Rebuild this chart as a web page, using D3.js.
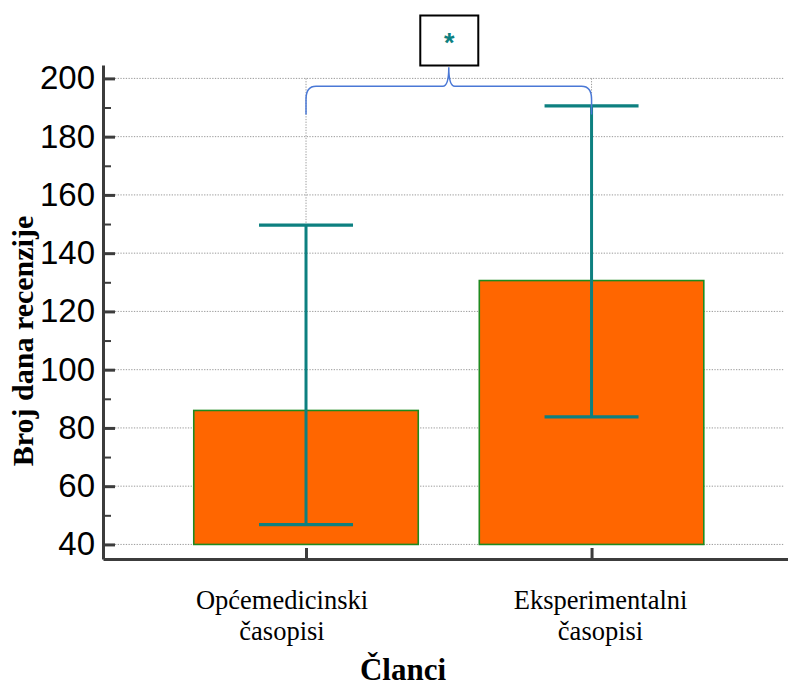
<!DOCTYPE html>
<html>
<head>
<meta charset="utf-8">
<script src="https://cdn.jsdelivr.net/npm/d3@7"></script>
<style>
  html, body { margin: 0; padding: 0; background: #fff; }
  svg { display: block; }
</style>
</head>
<body>
<svg id="chart" width="788" height="686"></svg>
<script>
// ---- data ----
const categories = [["Općemedicinski", "časopisi"], ["Eksperimentalni", "časopisi"]];
const barValues = [86, 130.6];
const errLow = [46.8, 83.8];
const errHigh = [149.6, 190.6];
const yMajorTicks = [40, 60, 80, 100, 120, 140, 160, 180, 200];
const yMinorTicks = [50, 70, 90, 110, 130, 150, 170, 190];
const barBase = 40;
const significance = "*";
const yTitle = "Broj dana recenzije";
const xTitle = "Članci";

// ---- setup ----
const svg = d3.select("#chart");
const y = d3.scaleLinear().domain([35, 204.6]).range([559, 65]);
const x = d3.scaleLinear().domain([-0.711, 1.688]).range([103, 788]);
const barW = 224.5;

const axisColor = "#3c3c3c";
const gridColor = "#9a9a9a";
const teal = "#0d8080";
const serif = "'Liberation Serif', 'Times New Roman', serif";

// horizontal gridlines
svg.append("g").selectAll("line").data(yMajorTicks).join("line")
  .attr("x1", 115).attr("x2", 784)
  .attr("y1", d => y(d)).attr("y2", d => y(d))
  .attr("stroke", gridColor).attr("stroke-width", 1)
  .attr("stroke-dasharray", "1.3,1.4");

// vertical gridlines
svg.append("g").selectAll("line").data(categories).join("line")
  .attr("x1", (d, i) => x(i)).attr("x2", (d, i) => x(i))
  .attr("y1", y(200)).attr("y2", y(40))
  .attr("stroke", gridColor).attr("stroke-width", 1)
  .attr("stroke-dasharray", "1.3,1.4");

// bars
svg.append("g").selectAll("rect").data(barValues).join("rect")
  .attr("x", (d, i) => x(i) - barW / 2)
  .attr("width", barW)
  .attr("y", d => y(d))
  .attr("height", d => y(barBase) - y(d))
  .attr("fill", "#ff6600")
  .attr("stroke", "#1f8a1f").attr("stroke-width", 1.6);

// error bars
const eg = svg.append("g");
barValues.forEach((v, i) => {
  const cx = x(i);
  eg.append("line").attr("x1", cx).attr("x2", cx)
    .attr("y1", y(errLow[i])).attr("y2", y(errHigh[i]))
    .attr("stroke", teal).attr("stroke-width", 3);
  [errLow[i], errHigh[i]].forEach(e => {
    eg.append("line").attr("x1", cx - 47).attr("x2", cx + 47)
      .attr("y1", y(e)).attr("y2", y(e))
      .attr("stroke", teal).attr("stroke-width", 3.2);
  });
});

// y axis
const yAxis = d3.axisLeft(y).tickValues(yMajorTicks).tickSizeInner(-12).tickSizeOuter(0).tickPadding(8);
const gy = svg.append("g").attr("transform", "translate(103,0)").call(yAxis);
gy.select(".domain").attr("stroke", axisColor).attr("stroke-width", 3);
gy.selectAll(".tick line").attr("stroke", axisColor).attr("stroke-width", 3);
gy.selectAll(".tick text").attr("font-family", "'Liberation Sans', Arial, sans-serif")
  .attr("font-size", 33).attr("fill", "#000");

const yMinor = d3.axisLeft(y).tickValues(yMinorTicks).tickSizeInner(-8).tickSizeOuter(0).tickFormat("");
const gym = svg.append("g").attr("transform", "translate(103,0)").call(yMinor);
gym.select(".domain").remove();
gym.selectAll(".tick line").attr("stroke", axisColor).attr("stroke-width", 2);

// x axis
const xAxis = d3.axisBottom(x).tickValues([0, 1]).tickSizeInner(-11).tickSizeOuter(0).tickFormat("");
const gx = svg.append("g").attr("transform", `translate(0,${y(35)})`).call(xAxis);
gx.select(".domain").attr("stroke", axisColor).attr("stroke-width", 3);
gx.selectAll(".tick line").attr("stroke", axisColor).attr("stroke-width", 3);

// x category labels (offset from tick as in reference)
const labShift = [-24, 9];
const lab = svg.append("g").attr("font-family", serif)
  .attr("font-size", 26.5).attr("fill", "#000").attr("text-anchor", "middle");
categories.forEach((c, i) => {
  c.forEach((line, j) => {
    lab.append("text").attr("x", x(i) + labShift[i]).attr("y", 609 + j * 31).text(line);
  });
});

// axis titles
svg.append("text").attr("x", 403).attr("y", 680)
  .attr("text-anchor", "middle")
  .attr("font-family", serif)
  .attr("font-weight", "bold").attr("font-size", 31).text(xTitle);

svg.append("text").attr("transform", "translate(33,341) rotate(-90)")
  .attr("text-anchor", "middle")
  .attr("font-family", serif)
  .attr("font-weight", "bold").attr("font-size", 30).text(yTitle);

// significance bracket
const x0 = x(0), x1 = x(1), xm = (x0 + x1) / 2;
const by = y(197.3), legY = y(187.6), tipY = y(203.8);
const p = d3.path();
p.moveTo(x0, legY);
p.lineTo(x0, by + 13);
p.quadraticCurveTo(x0, by, x0 + 10, by);
p.lineTo(xm - 6, by);
p.quadraticCurveTo(xm, by, xm, tipY);
p.quadraticCurveTo(xm, by, xm + 6, by);
p.lineTo(x1 - 10, by);
p.quadraticCurveTo(x1, by, x1, by + 13);
p.lineTo(x1, legY);
svg.append("path").attr("d", p.toString())
  .attr("fill", "none").attr("stroke", "#4a78d6").attr("stroke-width", 1.5);

// significance box
svg.append("rect").attr("x", xm - 28.5).attr("y", 15.5).attr("width", 58).attr("height", 50)
  .attr("fill", "#fff").attr("stroke", "#000").attr("stroke-width", 2);
svg.append("text").attr("x", xm + 0.5).attr("y", 52)
  .attr("text-anchor", "middle")
  .attr("font-family", "'Liberation Sans', Arial, sans-serif")
  .attr("font-weight", "bold").attr("font-size", 27).attr("fill", teal).text(significance);
</script>
</body>
</html>
